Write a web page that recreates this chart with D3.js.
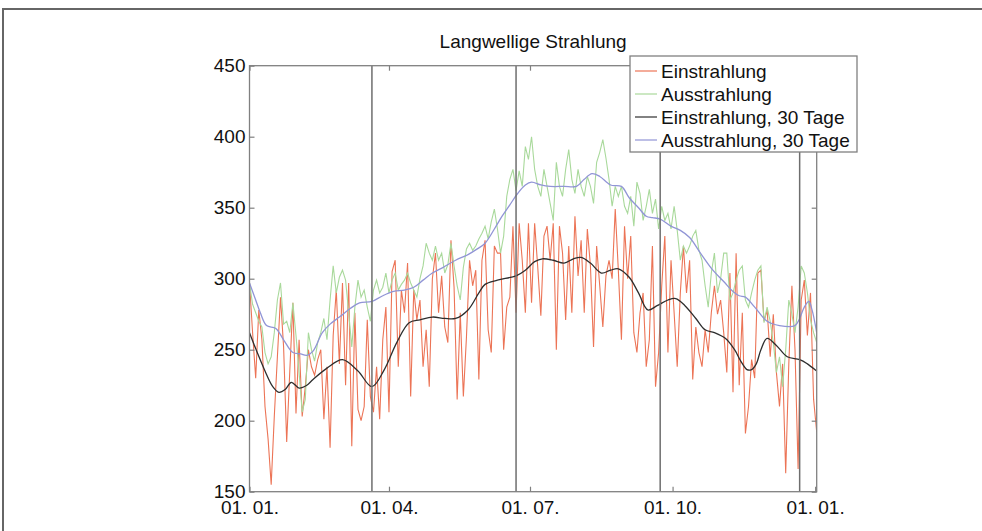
<!DOCTYPE html>
<html><head><meta charset="utf-8">
<script src="https://cdn.jsdelivr.net/npm/d3@7"></script>
<style>
body{margin:0;background:#fff}
svg{display:block}
text{font-family:"Liberation Sans",Arial,Helvetica,sans-serif;fill:#111}
</style>
</head><body>
<svg id="chart" width="982" height="531"></svg>
<script>
const title = "Langwellige Strahlung";
const seriesNames = ["Einstrahlung", "Ausstrahlung", "Einstrahlung, 30 Tage", "Ausstrahlung, 30 Tage"];
const xTickDays = [0, 90, 181, 273, 365];
const xTickLabels = ["01. 01.", "01. 04.", "01. 07.", "01. 10.", "01. 01."];
const yTicks = [150, 200, 250, 300, 350, 400, 450];
const seasonDays = [79, 172, 265, 355];
const dayStep = 2;

// daily values sampled every 2 days (day 0 .. 366)
const einstrahlung = [
297,262,230,278,257,210,187,155,203,245,287,252,185,235,283,205,257,203,224,250,
238,232,243,250,201,238,181,260,292,240,297,225,297,182,276,208,200,210,271,217,
206,238,201,257,280,206,305,313,238,292,276,311,217,292,271,285,238,264,224,300,
318,276,302,266,255,327,294,215,276,217,259,313,295,306,229,313,327,264,248,323,
318,318,250,280,287,337,276,339,313,276,339,283,339,308,274,330,337,313,339,250,
337,318,271,323,276,344,302,327,276,335,309,252,323,295,266,302,313,300,349,306,
257,337,300,330,262,248,276,290,238,257,323,224,248,295,330,248,313,276,238,290,
323,290,313,229,266,248,238,264,248,276,295,275,285,262,234,304,220,318,225,276,
191,210,243,230,304,306,270,278,245,275,234,210,240,163,240,295,250,166,285,299,
260,290,215,192
];
const ausstrahlung = [
297,282,276,270,266,248,240,245,262,285,297,268,270,262,283,260,234,206,215,262,
250,242,255,262,272,257,285,309,290,301,306,299,276,252,280,299,287,292,280,270,
292,299,290,294,304,290,299,304,292,296,299,304,297,292,287,300,309,325,318,313,
323,313,318,304,310,325,309,295,285,308,321,325,320,323,328,332,337,328,340,349,
335,318,330,358,370,377,362,376,365,393,384,400,377,365,358,377,365,353,341,382,
365,358,377,391,370,360,377,365,358,372,365,353,382,389,398,385,370,351,365,358,
365,351,346,358,337,368,360,341,351,363,346,356,335,351,341,346,335,351,334,313,
323,318,323,330,334,320,313,295,280,304,318,290,300,318,318,285,290,299,306,309,
285,280,290,299,306,309,269,280,270,255,234,245,224,250,285,275,262,280,309,304,
290,271,262,255
];
// 30-day running means, [day, value]
const einstrahlung30 = [
[0,262],[5,248],[10,235],[15,224],[19,220],[23,222],[27,227],[32,223],[37,225],[41,229],
[50,237],[60,243],[70,235],[79,224],[87,236],[95,255],[103,269],[110,271],[118,273],[126,272],
[133,272],[141,278],[148,290],[152,296],[160,299],[172,302],[178,306],[184,312],[189,314],[196,313],
[203,311],[209,314],[214,315],[220,311],[227,304],[233,306],[238,307],[245,301],[251,290],[257,278],
[263,281],[270,285],[275,286],[281,281],[288,272],[294,264],[300,262],[307,258],[313,250],[317,242],
[321,236],[324,236],[327,240],[330,250],[334,258],[340,253],[347,245],[355,243],[360,240],[366,235]
];
const ausstrahlung30 = [
[0,297],[4,285],[7,276],[11,267],[17,265],[22,257],[28,248],[33,247],[37,246],[41,249],
[47,262],[52,268],[58,273],[65,279],[71,283],[79,284],[86,288],[93,291],[100,292],[106,294],
[112,299],[118,304],[125,308],[133,313],[141,317],[147,321],[152,325],[158,335],[163,344],[168,352],
[173,360],[178,366],[182,368],[188,366],[194,365],[203,365],[211,365],[216,370],[221,374],[226,372],
[233,366],[240,365],[245,357],[251,350],[256,344],[260,343],[265,342],[272,337],[278,334],[284,329],
[291,318],[299,306],[306,298],[312,291],[316,288],[320,287],[326,280],[334,270],[342,267],[352,267],
[355,272],[358,280],[361,284],[363,278],[366,262]
];

const colors = ["#ec7456", "#a9d99b", "#2e2e2e", "#9195d6"];

const svg = d3.select("#chart");
const x = d3.scaleLinear().domain([0, 366]).range([249.5, 816.7]);
const y = d3.scaleLinear().domain([150, 450]).range([491.7, 65.7]);

// outer frame
svg.append("path")
  .attr("d", d3.line()([[3, 531], [3, 9], [982, 9]]))
  .attr("fill", "none").attr("stroke", "#666").attr("stroke-width", 2);

svg.append("defs").append("clipPath").attr("id", "plotclip")
  .append("rect").attr("x", x(0)).attr("y", y(450))
  .attr("width", x(366) - x(0)).attr("height", y(150) - y(450));

const plot = svg.append("g").attr("clip-path", "url(#plotclip)");

const dailyLine = d3.line().x((d, i) => x(i * dayStep)).y(d => y(d));
const smoothLine = d3.line().x(d => x(d[0])).y(d => y(d[1])).curve(d3.curveCatmullRom.alpha(0.5));

plot.append("path").datum(einstrahlung).attr("d", dailyLine)
  .attr("fill", "none").attr("stroke", colors[0]).attr("stroke-width", 1.1);
plot.append("path").datum(ausstrahlung).attr("d", dailyLine)
  .attr("fill", "none").attr("stroke", colors[1]).attr("stroke-width", 1.1);
plot.append("path").datum(einstrahlung30).attr("d", smoothLine)
  .attr("fill", "none").attr("stroke", colors[2]).attr("stroke-width", 1.3);
plot.append("path").datum(ausstrahlung30).attr("d", smoothLine)
  .attr("fill", "none").attr("stroke", colors[3]).attr("stroke-width", 1.3);

// season marker lines
svg.append("g").selectAll("line").data(seasonDays).join("line")
  .attr("x1", d => x(d)).attr("x2", d => x(d))
  .attr("y1", y(150)).attr("y2", y(450))
  .attr("stroke", "#6e6e6e").attr("stroke-width", 1.5);

// axes
const axisColor = "#808080";
function styleAxis(g) {
  g.select(".domain").remove();
  g.selectAll(".tick line").attr("stroke", axisColor).attr("stroke-width", 1.2);
  g.selectAll("text").attr("font-size", 19).attr("fill", "#111")
    .attr("font-family", '"Liberation Sans", Arial, sans-serif');
}
svg.append("g").attr("transform", `translate(${x(0)},0)`)
  .call(d3.axisLeft(y).tickValues(yTicks).tickSize(-5).tickPadding(4).tickFormat(d3.format("d")))
  .call(styleAxis);
svg.append("g").attr("transform", `translate(${x(366)},0)`)
  .call(d3.axisRight(y).tickValues(yTicks).tickSize(-5).tickFormat(""))
  .call(styleAxis);
svg.append("g").attr("transform", `translate(0,${y(150)})`)
  .call(d3.axisBottom(x).tickValues(xTickDays).tickSize(-5).tickPadding(9).tickFormat((d, i) => xTickLabels[i]))
  .call(styleAxis);
svg.append("g").attr("transform", `translate(0,${y(450)})`)
  .call(d3.axisTop(x).tickValues(xTickDays).tickSize(-5).tickFormat(""))
  .call(styleAxis);

// plot box
svg.append("rect").attr("x", x(0)).attr("y", y(450))
  .attr("width", x(366) - x(0)).attr("height", y(150) - y(450))
  .attr("fill", "none").attr("stroke", axisColor).attr("stroke-width", 1.3);

// title
svg.append("text").attr("x", (x(0) + x(366)) / 2).attr("y", 48)
  .attr("text-anchor", "middle").attr("font-size", 19).text(title);

// legend
const lg = svg.append("g").attr("transform", "translate(630,56)");
lg.append("rect").attr("width", 227).attr("height", 96)
  .attr("fill", "#fff").attr("stroke", axisColor).attr("stroke-width", 1.3);
seriesNames.forEach((name, i) => {
  const cy = 15 + i * 23;
  lg.append("line").attr("x1", 5).attr("x2", 27).attr("y1", cy).attr("y2", cy)
    .attr("stroke", colors[i]).attr("stroke-width", 1.2);
  lg.append("text").attr("x", 31).attr("y", cy + 6.5).attr("font-size", 19).text(name);
});
</script>
</body></html>
